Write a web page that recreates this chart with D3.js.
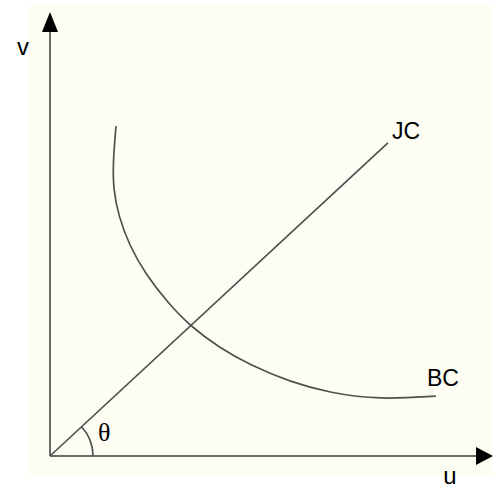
<!DOCTYPE html>
<html>
<head>
<meta charset="utf-8">
<script src="https://cdn.jsdelivr.net/npm/d3@7"></script>
<style>
  html, body { margin: 0; padding: 0; background: #ffffff; }
  svg { display: block; }
</style>
</head>
<body>
<svg id="chart" width="493" height="490"></svg>
<script>
// Budget constraint (BC) sampled in (u, v) units
const bcU = [1.50, 1.43, 1.44, 1.56, 1.80, 2.18, 2.68, 3.18, 3.86, 4.55, 5.45, 6.36, 7.50, 8.77];
const bcV = [7.43, 6.60, 6.00, 5.40, 4.75, 4.08, 3.45, 2.93, 2.43, 2.05, 1.67, 1.42, 1.27, 1.35];
// Ray through the origin (JC)
const jcU = [0, 7.68];
const jcV = [0, 7.05];
// Text labels
const axisLabels = ["u", "v"];
const curveLabels = ["JC", "BC"];
const angleLabel = "θ";

const svg = d3.select("#chart");
const ox = 50, oy = 456;

const x = d3.scaleLinear().domain([0, 10]).range([ox, ox + 440]);
const y = d3.scaleLinear().domain([0, 10]).range([oy, oy - 444]);

// Panel background
svg.append("rect")
  .attr("x", 28).attr("y", 5)
  .attr("width", 465).attr("height", 471)
  .attr("fill", "#fdfdf3");

// Axes
const axisColor = "#6a6a6a";
svg.append("line")
  .attr("x1", x(0)).attr("y1", y(0))
  .attr("x2", x(0)).attr("y2", 30)
  .attr("stroke", axisColor).attr("stroke-width", 2);
svg.append("line")
  .attr("x1", x(0)).attr("y1", y(0))
  .attr("x2", 478).attr("y2", y(0))
  .attr("stroke", axisColor).attr("stroke-width", 2);

// Arrowheads
svg.append("path")
  .attr("d", `M${x(0)},12 L${x(0) - 8},32 L${x(0) + 8},32 Z`)
  .attr("fill", "#000");
svg.append("path")
  .attr("d", `M493,${y(0)} L476,${y(0) - 9} L476,${y(0) + 9} Z`)
  .attr("fill", "#000");

const lineColor = "#505050";

// JC ray
const jcData = jcU.map((u, i) => [u, jcV[i]]);
svg.append("path")
  .datum(jcData)
  .attr("d", d3.line().x(d => x(d[0])).y(d => y(d[1])))
  .attr("fill", "none")
  .attr("stroke", lineColor)
  .attr("stroke-width", 1.7);

// BC curve, smoothed through the sampled points
const bcData = bcU.map((u, i) => [u, bcV[i]]);
svg.append("path")
  .datum(bcData)
  .attr("d", d3.line().x(d => x(d[0])).y(d => y(d[1])).curve(d3.curveBasis))
  .attr("fill", "none")
  .attr("stroke", lineColor)
  .attr("stroke-width", 1.7);

// Angle arc between u-axis and JC
const ang = Math.atan2(y(0) - y(jcV[1]), x(jcU[1]) - x(0));
const r = 43;
svg.append("path")
  .attr("d", `M${x(0) + r},${y(0)} A${r},${r} 0 0 0 ${x(0) + r * Math.cos(ang)},${y(0) - r * Math.sin(ang)}`)
  .attr("fill", "none")
  .attr("stroke", lineColor)
  .attr("stroke-width", 1.7);

// Labels
const sans = "'Liberation Sans', Arial, sans-serif";
svg.append("text").attr("x", 450).attr("y", 484)
  .attr("text-anchor", "middle")
  .attr("font-family", sans).attr("font-size", 24).text(axisLabels[0]);
svg.append("text").attr("x", 23).attr("y", 55)
  .attr("text-anchor", "middle")
  .attr("font-family", sans).attr("font-size", 24).text(axisLabels[1]);
svg.append("text").attr("x", 392).attr("y", 139)
  .attr("font-family", sans).attr("font-size", 23).text(curveLabels[0]);
svg.append("text").attr("x", 427).attr("y", 386)
  .attr("font-family", sans).attr("font-size", 23).text(curveLabels[1]);
svg.append("text").attr("x", 98).attr("y", 441)
  .attr("font-family", "'Liberation Serif', 'Times New Roman', serif")
  .attr("font-size", 26).text(angleLabel);
</script>
</body>
</html>
